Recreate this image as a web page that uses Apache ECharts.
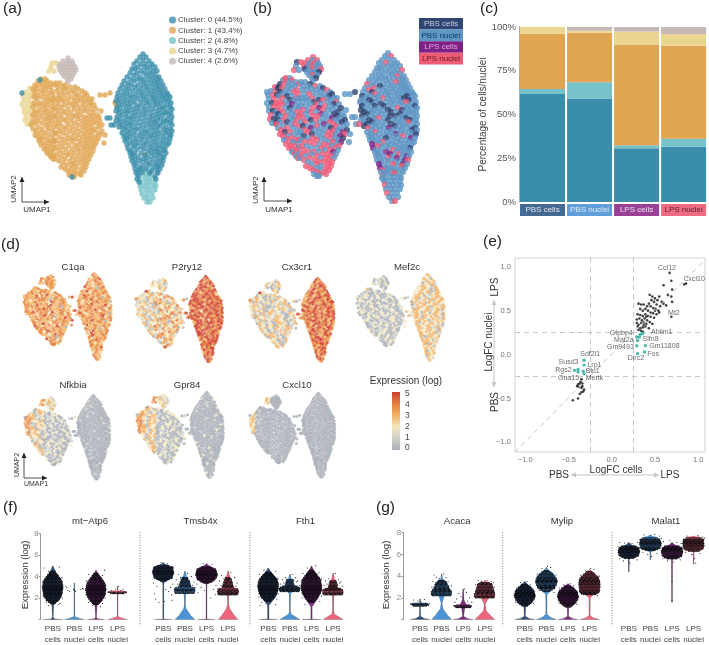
<!DOCTYPE html>
<html><head><meta charset="utf-8">
<style>html,body{margin:0;padding:0;background:#fff}#c{width:709px;height:645px}</style>
<script src="https://cdn.jsdelivr.net/npm/echarts@6/dist/echarts.min.js"></script>
</head><body><div id="c"></div>
<script>
// ---------- UMAP points: rows of [y, x, x, ...]
const yellowRows=[[63,52,56],[67,51],[71,49,54],[88,30,34],[92,26,31],[96,23,28,32],[100,24,29],[104,22,27,31],[108,24,29],[112,24,28,32],[116,26,31],[120,25,29],[124,27,31]];
const greyRows=[[58,68],[61,63,68,72],[64,60,65,69,73],[67,59,63,67,71,75],[70,60,64,68,72,76],[73,62,66,70,74],[76,64,68,72],[79,67,71],[82,68]];
const orangeLeftRows=[[79,41,45],[81,38,47],[83,43,51],[85,35,39,47,54],[87,43,50],[89,33,37,46],[91,41,52],[93,35,44,49],[95,38,53],[97,34,42,47],[99,37,51,54],[101,45,49],[103,34,40,53],[105,37,43,47],[107,51,33],[109,40,45,54],[111,35,48],[113,38,43,52],[115,33,47],[117,36,41,50,54],[119,45],[121,33,38,48,52],[123,42,35],[125,31,46,50],[127,38,54],[129,33,42,48],[131,36,52],[133,40,45,55],[135,35,49],[137,38,43,53],[139,41,47],[141,39,51,54],[143,44,48],[145,41,53],[147,46,50],[149,44,54],[151,48,52],[153,47],[155,50,54],[157,51],[159,53,55]];
const orangeRightRows=[[83,56,60],[85,65],[87,58,63,70,75],[89,66,78],[91,57,62,72,82],[93,68,75,85,110],[95,59,64,79,87,100,105],[97,71,76,84],[99,57,61,67,81,89,92],[101,63,74,78,86],[103,58,69,83,91,115],[105,65,72,76,89,94],[107,56,61,80,85,117],[109,68,74,91,96],[111,58,63,78,83,87,101],[113,66,71,93],[115,56,61,76,80,89,97],[117,68,73,84,92,99],[119,58,63,78,87,95],[121,66,71,82,90,100],[123,56,60,75,85,93,97],[125,68,79,88,102],[127,58,63,72,83,91,99],[129,66,76,86,95],[131,60,70,80,89,93,102],[133,56,63,74,84,98],[135,67,78,87,91,100,105],[137,59,72,82,95],[139,63,68,76,86,90,98],[141,56,72,80,93],[143,60,65,84,88,96,104],[145,69,75,79,92],[147,57,62,83,87,94],[149,66,72,77,90],[151,59,80,85,93],[153,63,69,74,88],[155,57,67,78,83,91,145],[157,61,72,86],[159,65,76,81,89],[161,59,70,84],[163,63,74,79,87],[165,67,72,83],[167,61,76,86],[169,65,71,81],[171,68,75,84],[173,72,79],[175,69,75,81],[177,74]];
const blueRows=[[54,143],[57,140,146],[60,143],[61,137,149],[64,134,141,146,152],[67,138,144,150,155],[69,132,135,147],[71,141,153,157],[73,130,137,144,150],[75,134,147,155],[77,127,140,152,159],[79,131,137,144,149,157],[81,124,134,141,154,161],[83,128,146,151,158],[85,122,131,138,143,156,163],[87,126,135,148,153,160],[89,120,129,141,146,158,165],[91,124,133,138,151,155,162],[93,118,127,143,148,160,167],[95,122,130,136,141,153,157,164,168],[97,117,125,133,146,151,162,170],[99,120,129,138,143,155,159,166],[101,116,124,134,148,153,164,169],[103,119,127,131,141,146,157,161,171],[105,122,136,150,155,167],[107,117,126,130,139,144,159,164,170],[109,120,134,148,153,162,172],[111,116,124,129,138,143,157,167],[113,119,127,133,146,151,160,165,171],[115,122,136,141,155,163,169],[117,117,126,131,145,150,158,172],[119,120,129,134,139,153,161,167],[121,116,124,143,148,157,165,171],[123,119,127,132,137,151,155,163,169],[125,122,130,141,146,160,172],[127,119,126,135,150,154,158,166],[129,123,131,139,144,163,170],[131,127,135,148,153,157,167,172],[133,122,130,142,146,160,165],[135,126,134,139,151,155,169,171],[137,124,130,144,149,158,163],[139,127,136,141,153,166,170],[141,125,133,147,156,161],[143,130,138,143,151,164,169],[145,127,135,146,155,159,167],[147,133,141,150,162],[149,128,137,144,153,158,165],[151,131,148,156,163],[153,130,135,141,151,160,166],[155,133,145,154,158],[157,131,138,148,162,164],[159,135,143,152,157],[161,132,140,146,160,163],[163,136,150,155],[165,134,143,148,158,162],[167,139,153,157],[169,135,141,146,160],[171,138,152,157],[173,136,142,150,158],[176,138,155],[179,137,156],[182,139],[177,72],[80,40],[93,22],[118,107,110],[125,111,114]];
const tealRows=[[170,143,149],[174,139,146,149],[178,140,145,149,153],[182,141,146,150,155],[186,140,144,148,153,156],[190,141,146,150,155],[194,142,147,152],[198,144,148,153],[202,147,150]];

// ---------- per-point sample letters (a PBS cells, b PBS nuclei, c LPS cells, d LPS nuclei)
const sampleYellow="adbdbdabdbdabdbadbdbabdbdab";
const sampleGrey="ddbddbdbdbdbbabdbdbbbabdbbabdb";
const sampleOrangeLeft="dbbdbbadbdbbadbbdabdbdbabddbabdbbdbcbdbabdbdbdabbdbdbadbdabdbdbdbdbdbadbdbdbbddbdddbdbdddbddb";
const sampleOrangeRight="bbabbdbbabbbdbbbabdbabbbbabbdbbbbadbbabdbbdbabbbdbbdcbadbdbbbdbadbcbabddbabdbbcbadbbabdbdbabcdbabdbdbcbabdbbdbabdbdcabdbdbabdcbdbdbabdbbddbdcbdbdbdbdbdbbdddbdbddbcdbddbdbdddbdbdddbdddbdddbddbddbdddbddbdddbdbdddbdddbb";
const sampleBlue="bbdbbbbdbbbbbbbbbbbdbbbbbbbbbdbbbbbbbbbbbbbdbdbbbbbbabbbbdbbbbdbbbbbbabbbbbdbbbbbbabbbbabbbdbbabbabbbabbabbbbdbbabbbabaabbbabbbdbbabbbaababbabbbbabbabbabbaabbbbdbbabbaabbabbabbbbdbabbabbabbabbbdbbcbabbbbbabbdbbbbbbbcbbabbbbdbbbabcbbbbbbbdbbbbcbbbbbdbbbcbbbbabdbbbbcbbbbcdbbbbcbbdcbbbbcdbbbcbdcbbbdcbbbdbbbbbbdbbb";
const sampleTeal="bbbbdbbbbbbbbdbbbbbbbbdbbbbbbdbb";

// ---------- per-point expression digits per gene, groups in the same order as above
const exprC1qa=["4343343433434343344343434","3434343234343434324343343","43343443243434334352343443343424334343353433432433434353434324343433434334423434343352434334343","34343243435343342434335343430343343435343243433434253433434034335433424343344343253433434244343534334303434335434243343435","3434243345343343424343343335234343042434334334534343243433434344343335342434343034343243334534334234343333443402343343453342343353343434253434334","343234343343533433243243343"];
const exprP2ry12=["1232212321121312221232","2123122321201232123121323212","2312301231232230123213102320132302120321302311231320230131320232130230123231203120132301322","2342313243243124034232413242313243034231423224314232403143223413204231324241324323401324232341230432143234302432134230423134","5454545345455445354545545435445454554345455435445525454354545454554535454455435454554534545545435454555445354545554435454554354545345455454354545525454","4545435455445345454545544"];
const exprCx3cr1=["2132023123012321323","1203212320123021320","2102310213203102132021302132013201230213120320132012301312302132103203120132032130213012302","2130230123132023103213021320132023130213203213013202310231320120332013120323210213203123012320321302132301320132031203201323","4543543454535443545435435454345535434543545343534554354534553434543535445343545345345344535435454354534543545435344535453454345453543543455434545","4543435454354534454354543"];
const exprMef2c=["0102102010201201020","0120102012010201201","1020120102001201020120102001201201020102012001201020120102010201020102012001201020010201201","1020102012001020120102010201200102012010200102010201201020102010201201002010201020120102010201020120100201020120102010201201","3232302323132320323123203232313232032321323032323132302323213232032323123230232313232032321323230323132323032321323203232313230323213232303231323","3230323213232302323"];
const exprNfkbia=["3433432434343434","1221232121322132","3213231032132310232132310213230121323102132302132310213203213021323102130213201321302130213","1201021020120100201201020102012001020102010201200102010200102010201020100201020102001020102001020100201000102010001020","000000100000000000000100000000010000000000000000100000000000000100000000000000010000000001000000000000000000010000000000000","0000000100000000"];
const exprGpr84=["4343434343434344","2122312123121221","3232302323123203232313203232321032323103232032323123032321323203232130323213023232032123203","1201021020102012010020102010201200102010201020102010201002010201002010201000102010201001020100102000102010001020100010","000000100000020000000010000000000100000020000000000100000000010000000000200000010000000000001000000000000000200000000000000","0100002000000100"];
const exprCxcl10=["3232323232323","0000000000000","0100000100000000010000000000000001000000000000000000010000000000000000000000000000000000000","0000000000000000000000000000000000000000000000000000000000000000000000000000000000000000000000000000000000000000000000","0000000000000000000000000000000000000000000000000000000000000000000000000000000000000000000000000000000000000000000000000000","00000000000"];

// ---------- panel (c)
const sampleNames=['PBS cells','PBS nuclei','LPS cells','LPS nuclei'];
const barCluster0=[61.7,59.2,30.7,31.6];
const barCluster2=[2.9,9.2,1.7,4.6];
const barCluster1=[31.6,28.3,57.3,53.1];
const barCluster3=[3.8,1.2,7.8,6.5];
const barCluster4=[0,2.1,2.5,4.2];
const clusterNames=['Cluster: 0 (44.5%)','Cluster: 1 (43.4%)','Cluster: 2 (4.8%)','Cluster: 3 (4.7%)','Cluster: 4 (2.6%)'];

// ---------- panel (e)
const fcBlack=[[.67,.93],[.84,.8],[.86,.81],[.69,.43],[.69,.84],[.6,.79],[.7,.74],[.69,.66],[.65,.68],[.7,.6],[.44,.68],[.47,.66],[.5,.64],[.53,.62],[.55,.66],[.58,.6],[.46,.62],[.49,.6],[.52,.57],[.56,.55],[.6,.58],[.63,.56],[.43,.58],[.41,.55],[.45,.55],[.48,.53],[.51,.52],[.54,.5],[.37,.57],[.31,.58],[.34,.57],[.33,.52],[.36,.5],[.39,.52],[.42,.5],[.45,.48],[.48,.47],[.52,.46],[.3,.46],[.33,.45],[.36,.44],[.39,.46],[.42,.44],[.45,.43],[.49,.42],[.29,.4],[.32,.41],[.35,.39],[.38,.41],[.41,.39],[.44,.37],[.47,.35],[.29,.36],[.31,.34],[.34,.36],[.37,.34],[.4,.35],[.3,.32],[.33,.3],[.36,.31],[.39,.32],[.43,.3],[.34,.27],[.36,.26],[.31,.28],[.37,.37],[.4,.43],[.5,.5],[.55,.48],[-.35,-.28],[-.36,-.31],[-.39,-.34],[-.34,-.33],[-.38,-.37],[-.35,-.38],[-.32,-.4],[-.33,-.42],[-.37,-.45],[-.39,-.5],[-.45,-.52],[-.35,-.43],[-.4,-.36],[-.37,-.33],[-.34,-.36]];
const fcTeal=[[.29,.2],[.3,.16],[.32,.2],[.33,.23],[.36,.24],[.29,.1],[.39,.1],[.3,.01],[.38,.03],[-.32,-.065],[-.32,-.12],[-.43,-.18],[-.39,-.17],[-.39,-.2],[-.33,-.19],[-.32,-.22]];
const fcLabels=[['Ccl12',.64,.985],['Cxcl10',.955,.86],['Mt2',.72,.47],['Gtpbp4',.11,.25],['Ablim1',.58,.255],['Mat2a',.14,.17],['Slfn8',.45,.18],['Gm9493',.1,.09],['Gm11808',.61,.1],['Fos',.48,0],['Dirc2',.28,-.04],['Sdf2l1',-.25,0],['Susd3',-.5,-.09],['Lrp1',-.2,-.115],['Rgs2',-.56,-.175],['Bin1',-.22,-.19],['Gna15',-.5,-.27],['Mertk',-.2,-.27]];
const fcTicks=[-1,-.5,0,.5,1];

// ---------- violins: [y, half width] outlines per sample, dark jitter mass, stray jitter dots [dx,y,...]
const vAtp6=[[[0,.46],[.05,.1],[.2,.01],[1.3,.04],[2,.3],[3,.45],[4,.22],[5,.01]],[[0,.46],[.08,.3],[.25,.04],[.4,.01],[3.4,.01]],[[0,.4],[.06,.08],[.2,.01],[1.3,.05],[2,.3],[2.8,.45],[3.7,.25],[4.6,.01]],[[0,.46],[.08,.3],[.25,.04],[.4,.01],[3.1,.01]]];
const bAtp6=[[[1.5,.12],[1.8,.3],[2.2,.42],[3,.48],[3.6,.43],[4,.3],[4.6,.07]],[[2.72,.03],[2.9,.03]],[[1.4,.12],[1.8,.3],[2.2,.42],[2.8,.48],[3.4,.42],[3.8,.28],[4.4,.06]],[[2.42,.34],[2.55,.44],[2.7,.26]]];
const dAtp6=[[-.4,4.8,.3,4.9,-.2,4.5,.42,3.9,-.47,3.5,.46,3.3,-.44,2.2,.44,2,-.3,1.6,.33,1.5,-.2,1.3,.25,1.4],[-.4,3.1,-.3,2.7,-.22,2.6,.3,2.8,.38,2.9,.42,2.85,.05,2.6,-.35,2.95],[-.35,4.2,.4,4.6,.3,4.1,-.45,3.6,.46,3.2,-.46,2.3,.42,2,-.35,1.6,.3,1.5,-.15,1.3,.2,1.2],[-.4,2.6,-.3,2.7,-.1,2.85,.15,2.7,.35,2.6,.4,2.5,.05,3.1,-.2,2.5,.25,2.85]];
const vTmsb=[[[0,.4],[.05,.02],[3.4,.02],[3.8,.3],[4.4,.5],[5,.2],[5.3,.01]],[[0,.46],[.4,.26],[1,.06],[1.4,.01],[2.3,.03],[2.7,.2],[3.4,.16],[4,.08],[4.5,.01]],[[0,.4],[.05,.02],[3.3,.02],[3.6,.3],[4.2,.5],[4.8,.25],[5.2,.01]],[[0,.46],[.4,.28],[1,.08],[1.5,.01],[2.3,.03],[2.6,.2],[3.3,.16],[4,.08],[4.5,.01]]];
const bTmsb=[[[3.6,.16],[3.85,.42],[4.4,.5],[4.9,.44],[5.15,.14]],[[2.45,.46],[2.7,.49],[2.95,.47],[3.1,.28],[3.6,.2],[4,.1]],[[3.4,.16],[3.7,.42],[4.2,.5],[4.7,.44],[5,.14]],[[2.3,.46],[2.6,.49],[2.85,.47],[3,.28],[3.5,.2],[4,.1]]];
const dTmsb=[[-.45,3.4,.44,3.3,-.3,3.1,.33,3,.1,2.8,-.4,2.4,.38,2.3,-.35,1.9,.4,1.8,.05,1.7,-.2,1.6,.25,2.6,-.1,5.3,.2,5.2],[-.3,4.2,.3,4,-.4,3.7,.42,3.5,-.33,3.3,.36,3.2,-.2,3.9,.12,4.3,.2,3.6,-.12,3.4],[-.44,3.3,.44,3.2,-.25,3,.32,2.8,-.4,2.5,.4,2.3,.2,2,-.1,2.7,-.15,5.2,.25,5.1],[-.3,4.1,.3,3.9,-.4,3.6,.42,3.4,-.33,3.2,.36,3.1,-.2,3.8,.12,4.4,.2,3.5,-.12,3.3]];
const vFth=[[[0,.44],[.05,.03],[1.3,.03],[2,.3],[3.1,.47],[4,.25],[4.8,.01]],[[0,.46],[.2,.3],[.5,.06],[.8,.01],[2.4,.03],[2.8,.2],[3.4,.12],[4.2,.01]],[[0,.44],[.05,.03],[1.2,.03],[2,.3],[3,.48],[4,.25],[5,.01]],[[0,.46],[.2,.3],[.5,.06],[.9,.01],[2.2,.03],[2.6,.2],[3.3,.12],[4.3,.01]]];
const bFth=[[[1.7,.12],[2,.3],[2.4,.42],[3.1,.49],[3.7,.43],[4.1,.28],[4.5,.08]],[[2.6,.46],[2.8,.49],[3,.46],[3.2,.22],[3.8,.14]],[[1.6,.12],[2,.3],[2.4,.42],[3,.49],[3.7,.43],[4.2,.26],[4.7,.06]],[[2.3,.46],[2.55,.49],[2.8,.46],[3,.22],[3.7,.14]]];
const dFth=[[-.4,4.2,.35,4.5,-.2,4.6,.45,3.8,-.47,3.5,.46,2.4,-.44,2.1,.4,1.9,-.3,1.6,.33,1.4,-.38,1.3],[-.35,3.7,.3,3.5,-.42,3.3,.44,3.2,-.2,3.9,.1,4.2,.25,3.9,-.28,3.4,.36,3.6],[-.4,4.3,.35,4.4,-.2,4.8,.2,5,.46,3.8,-.47,3.6,.46,2.2,-.44,2,.38,1.7,-.3,1.4],[-.35,3.6,.3,3.4,-.42,3.2,.44,3.1,-.2,3.8,.1,4.3,.25,3.7,-.28,3.3,.36,3.5]];
const vAcaca=[[[0,.46],[.1,.2],[.3,.02],[1.9,.01]],[[0,.46],[.4,.28],[1,.06],[1.5,.02],[2.3,.14],[3,.1],[4.2,.01]],[[0,.46],[.1,.2],[.3,.02],[1.1,.08],[1.3,.16],[1.8,.04],[2.8,.01]],[[0,.46],[.3,.3],[.8,.06],[1.4,.02],[2.1,.2],[2.8,.18],[3.6,.01]]];
const bAcaca=[[[1.25,.34],[1.4,.42],[1.55,.34]],[[2.2,.46],[2.45,.49],[2.65,.44],[3,.34],[3.4,.26],[3.7,.08]],[[1.1,.36],[1.25,.42],[1.4,.28]],[[2,.46],[2.25,.49],[2.5,.44],[2.9,.38],[3.3,.32],[3.5,.12]]];
const dAcaca=[[-.3,1.8,.2,1.85,-.1,1.7,.4,1.3,-.42,1.45,.44,1.5,.05,1.6,-.18,1.2],[-.35,4.1,-.25,3.9,.2,3.9,.3,3.5,-.4,3.5,.45,3.1,-.45,3,.1,4.2,-.1,3.8],[-.2,2.4,.15,2.5,.3,2,-.3,1.9,.05,2.8,-.1,2.1,.2,1.7,-.38,1.6,.4,1.6,-.42,1.3],[-.3,3.6,.3,3.5,-.42,3.2,.44,3,.1,3.6,-.15,3.5,.4,3.4]];
const vMylip=[[[0,.46],[.1,.2],[.3,.02],[1.2,.04],[1.7,.3],[2.2,.45],[2.8,.3],[3.5,.01]],[[0,.46],[.2,.18],[.5,.02],[2.3,.03],[2.8,.3],[3.5,.47],[4.2,.24],[4.8,.01]],[[0,.46],[.1,.2],[.3,.02],[1.1,.04],[1.6,.3],[2.1,.45],[2.7,.3],[3.3,.01]],[[0,.46],[.15,.16],[.4,.02],[2,.03],[2.6,.35],[3.4,.47],[4.1,.28],[4.6,.01]]];
const bMylip=[[[1.25,.14],[1.5,.3],[1.8,.42],[2.2,.49],[2.7,.42],[3,.28],[3.35,.08]],[[2.6,.18],[2.85,.38],[3.15,.46],[3.5,.5],[4,.42],[4.3,.26],[4.6,.07]],[[1.15,.14],[1.4,.3],[1.7,.42],[2.1,.49],[2.6,.42],[2.9,.28],[3.2,.08]],[[2.3,.3],[2.5,.46],[3.4,.5],[3.9,.42],[4.2,.26],[4.5,.08]]];
const dMylip=[[-.2,3.4,.25,3.2,-.38,2.9,.44,2.6,-.48,2.4,.4,1.5,-.42,1.6,.1,3.5],[-.2,4.7,.2,4.8,-.42,4.2,.45,4.1,-.3,2.7,.35,2.5,.05,4.9,-.48,3.8],[-.2,3.2,.25,3.1,-.38,2.9,.44,2.5,-.48,2.3,.4,1.4,-.42,1.5,.1,3.3],[-.2,4.5,.2,4.6,-.42,4.1,.45,4,-.38,2.3,.35,2.2,.05,4.7,-.48,3.7]];
const vMalat=[[[4.4,.01],[5.6,.02],[6,.3],[6.25,.47],[6.6,.3],[7.1,.01]],[[5.5,.01],[6.2,.02],[6.6,.3],[7,.47],[7.4,.3],[7.8,.01]],[[1.6,.01],[5.6,.02],[5.95,.3],[6.25,.47],[6.6,.3],[7.1,.01]],[[5.1,.01],[6.2,.02],[6.6,.3],[7,.47],[7.4,.3],[7.7,.01]]];
const bMalat=[[[5.65,.24],[5.85,.44],[6.25,.5],[6.65,.44],[6.85,.24]],[[6.35,.24],[6.55,.45],[7,.5],[7.4,.46],[7.65,.24]],[[5.6,.24],[5.8,.44],[6.25,.5],[6.65,.44],[6.85,.24]],[[6.3,.26],[6.5,.46],[7,.5],[7.4,.46],[7.65,.24]]];
const dMalat=[[-.44,7.1,-.2,7.05,.15,7,.4,7.1,-.5,6.7,.5,6.6,-.42,5.6,.38,5.5,-.25,5.4,.2,5.7,.05,5.2],[-.3,7.8,.2,7.85,.42,7.7,-.48,7.4,.5,7.5,-.35,6.2,.3,6.1,.05,5.8,-.12,6],[-.4,7.2,-.1,7.3,.22,7.1,.42,7,-.5,6.8,.5,6.6,-.42,5.6,.38,5.5,.08,5.3,0,3.5,0,1.7,-.2,5.4],[-.3,7.7,.2,7.75,.42,7.6,-.48,7.3,.5,7.5,-.38,6.2,.3,6.1,.04,5.6,-.08,6,.1,5.2]];

// ---------- styling
const clusterColors=['#3a8dab','#e0a552','#77c2c8','#ead591','#c6b9b5'];
const sampleColors={a:'#2f4470',b:'#5e96c4',c:'#7a2585',d:'#ee5d78'};
const stripColors=['#446a94','#5fa0dc','#9c3f96','#ee6b82'];
const violinColors=['#2f4d78','#4a94d6','#7e2a7e','#ee6478'];
const exprPalette=['#a9afb8','#cfcfc8','#f4e6bd','#f2b266','#e3803f','#cf3d2e'];
const FONT='"Liberation Sans",Arial,sans-serif';

const expand=rows=>rows.flatMap(r=>r.slice(1).map(x=>[x,r[0]]));
const groups=[yellowRows,greyRows,orangeLeftRows,orangeRightRows,blueRows,tealRows].map(expand);
const sampleStr=[sampleYellow,sampleGrey,sampleOrangeLeft,sampleOrangeRight,sampleBlue,sampleTeal];

const grid=[],xAxis=[],yAxis=[],series=[],title=[];
function addGrid(g,x,y){grid.push(Object.assign({containLabel:false},g));xAxis.push(Object.assign({gridIndex:grid.length-1},x));yAxis.push(Object.assign({gridIndex:grid.length-1},y));return grid.length-1;}
const umapX={type:'value',min:15,max:185,show:false},umapY={type:'value',min:50,max:210,inverse:true,show:false};

// (a)
const ga=addGrid({left:15,top:50,width:170,height:160},umapX,umapY);
const clusterData=[groups[4],groups[2].concat(groups[3]),groups[5],groups[0],groups[1]];
[0,1,2,3,4].forEach(i=>series.push({type:'scatter',name:clusterNames[i],xAxisIndex:ga,yAxisIndex:ga,data:clusterData[i],symbolSize:5.3,itemStyle:{color:clusterColors[i]},silent:true,animation:false,z:[5,3,4,2,2][i]}));

// (b)
const gb=addGrid({left:260,top:49,width:170,height:160},umapX,umapY);
const bData=[];groups.forEach((g,k)=>g.forEach((p,i)=>bData.push({value:p,itemStyle:{color:sampleColors[sampleStr[k][i%sampleStr[k].length]]}})));
series.push({type:'scatter',xAxisIndex:gb,yAxisIndex:gb,data:bData,symbolSize:6.2,silent:true,animation:false});

// (d)
const genes=[['C1qa',exprC1qa,20,271,.58,68,263],['P2ry12',exprP2ry12,132,274,.575,182,263],['Cx3cr1',exprCx3cr1,246,276,.56,292,263],['Mef2c',exprMef2c,353,272,.58,402,263],['Nfkbia',exprNfkbia,21,393,.565,68,381],['Gpr84',exprGpr84,133,390,.575,182,381],['Cxcl10',exprCxcl10,246,391,.565,292,381]];
genes.forEach(g=>{
  const gi=addGrid({left:g[2],top:g[3],width:170*g[4],height:160*g[4]},umapX,umapY);
  const data=[];groups.forEach((grp,k)=>grp.forEach((p,i)=>{const s=g[1][k];data.push([p[0],p[1],+s[i%s.length]]);}));
  series.push({type:'scatter',xAxisIndex:gi,yAxisIndex:gi,data,symbolSize:3.1,silent:true,animation:false,itemStyle:{color:p=>exprPalette[p.value[2]]}});
  title.push({text:g[0],left:g[5],top:g[6]-6,textAlign:'center',textStyle:{fontSize:9.6,fontWeight:'normal',color:'#333',fontFamily:FONT}});
});
// colour bar
const gbar=addGrid({left:392,top:392,width:8,height:58},{type:'category',data:[''],show:false},{type:'value',min:-.18,max:5.18,position:'right',axisLine:{show:false},axisTick:{show:false},splitLine:{show:false},axisLabel:{customValues:[0,1,2,3,4,5],fontSize:8.5,margin:5,color:'#444',fontFamily:FONT}});
series.push({type:'custom',xAxisIndex:gbar,yAxisIndex:gbar,data:[[0]],silent:true,animation:false,renderItem:(p,api)=>{const a=api.coord([0,5.18]),b=api.coord([0,-.18]),w=api.size([1,0])[0];return{type:'rect',shape:{x:a[0]-w/2,y:a[1],width:w,height:b[1]-a[1]},style:{fill:{type:'linear',x:0,y:0,x2:0,y2:1,colorStops:exprPalette.slice().reverse().map((c,i)=>({offset:i/5,color:c}))}}};}});

// (c)
const gc=addGrid({left:519,top:27,width:189,height:175},
 {type:'category',data:sampleNames.map((n,i)=>({value:n,textStyle:{backgroundColor:stripColors[i],color:i==3?'#5a1c2c':'#e6e6ee'}})),axisLine:{show:false},axisTick:{show:false},axisLabel:{interval:0,fontSize:8,margin:2,width:45,height:12,lineHeight:12,align:'center',overflow:'none',fontFamily:FONT}},
 {type:'value',min:0,max:100,interval:25,axisLine:{show:true,lineStyle:{color:'#999',type:'dotted'}},axisTick:{show:false},splitLine:{show:false},axisLabel:{formatter:'{value}%',fontSize:9.5,margin:3,color:'#555',fontFamily:FONT},name:'Percentage of cells/nuclei',nameLocation:'middle',nameGap:21,nameTextStyle:{fontSize:10,color:'#444',fontFamily:FONT}});
[[barCluster0,0],[barCluster2,2],[barCluster1,1],[barCluster3,3],[barCluster4,4]].forEach(b=>series.push({type:'bar',stack:'c',xAxisIndex:gc,yAxisIndex:gc,data:b[0],barWidth:45,itemStyle:{color:clusterColors[b[1]]},silent:true,animation:false}));

// (e)
const tick=v=>v.toFixed(1).replace('-','\u2212');
const ge=addGrid({left:515,top:258,width:190,height:194,show:true,borderColor:'#cfd2d8',borderWidth:1},
 {type:'value',min:-1.12,max:1.08,splitLine:{show:false},axisLine:{show:false},axisTick:{show:false},axisLabel:{customValues:fcTicks,formatter:tick,fontSize:7.5,margin:4,color:'#777',fontFamily:FONT}},
 {type:'value',min:-1.11,max:1.1,splitLine:{show:false},axisLine:{show:false},axisTick:{show:false},axisLabel:{customValues:fcTicks,formatter:tick,fontSize:7.5,margin:4,color:'#777',fontFamily:FONT}});
const dash={color:'#c4c6c9',type:[5,4],width:1};
series.push({type:'scatter',xAxisIndex:ge,yAxisIndex:ge,data:fcBlack,symbolSize:2.6,itemStyle:{color:'#111'},silent:true,animation:false,z:4,
 markLine:{silent:true,symbol:'none',animation:false,label:{show:false},lineStyle:dash,data:[{xAxis:-.25},{xAxis:.25},{yAxis:-.25},{yAxis:.25},[{coord:[-1.12,-1.11]},{coord:[1.06,1.06]}]]}});
series.push({type:'scatter',xAxisIndex:ge,yAxisIndex:ge,data:fcTeal,symbolSize:3.4,itemStyle:{color:'#22a897'},silent:true,animation:false,z:5});
series.push({type:'scatter',xAxisIndex:ge,yAxisIndex:ge,data:fcLabels.map(l=>({value:[l[1],l[2]],name:l[0]})),symbolSize:0,silent:true,animation:false,z:6,label:{show:true,position:'inside',formatter:'{b}',fontSize:7,color:'#444',fontFamily:FONT}});

// (f,g) violins
function violinPanel(left,top,h,axisOffset,name,v,b,d){
  const yOn=axisOffset>0;
  const gi=addGrid({left,top,width:86.4,height:h},
   {type:'category',data:['PBS\ncells','PBS\nnuclei','LPS\ncells','LPS\nnuclei'],axisLine:{show:false},axisTick:{show:false},axisLabel:{interval:0,fontSize:8,margin:4.5,lineHeight:10.5,color:'#444',fontFamily:FONT}},
   {type:'value',min:0,max:8,interval:2,splitLine:{show:false},show:yOn,offset:axisOffset,axisLine:{show:yOn,lineStyle:{color:'#999'}},axisTick:{show:yOn,length:2,lineStyle:{color:'#999'}},axisLabel:{formatter:x=>x?x:'',fontSize:8,margin:2,color:'#888',fontFamily:FONT}});
  series.push({type:'custom',xAxisIndex:gi,yAxisIndex:gi,data:[[0],[1],[2],[3]],silent:true,animation:false,renderItem:(p,api)=>{
    const i=api.value(0),band=api.size([1,0])[0];
    const poly=(prof,fill,extra)=>{const pts=[];prof.forEach(q=>{const c=api.coord([i,q[0]]);pts.push([c[0]+q[1]*band,c[1]]);});prof.slice().reverse().forEach(q=>{const c=api.coord([i,q[0]]);pts.push([c[0]-q[1]*band,c[1]]);});return{type:'polygon',shape:{points:pts},style:Object.assign({fill},extra||{})};};
    const lo=api.coord([i,v[i][0][0]]),hi=api.coord([i,v[i][v[i].length-1][0]]);
    const kids=[{type:'line',shape:{x1:lo[0],y1:lo[1],x2:hi[0],y2:hi[1]},style:{stroke:'#777',lineWidth:.9}},poly(v[i],violinColors[i],{stroke:'#333',lineWidth:.25}),poly(b[i],violinColors[i],{opacity:.9})];
    // the dark jitter mass: stipple filling the mass outline b[i], so colour shows through
    const m=b[i].map(q=>[api.coord([i,q[0]])[1],q[1]*band]);
    let row=0;
    for(let k=0;k<m.length-1;k++){
      const y0=m[k][0],y1=m[k+1][0],n=Math.max(1,Math.round((y0-y1)/1.1));
      for(let s=0;s<n;s++){const t=s/n,py=y0+(y1-y0)*t,hw=m[k][1]+(m[k+1][1]-m[k][1])*t;row++;
        const cx=lo[0];
        for(let dx=-hw+(row%2?.65:0);dx<=hw;dx+=1.3)kids.push({type:'circle',shape:{cx:cx+dx,cy:py,r:.72},style:{fill:'#0b0b0e'}});}
    }
    for(let k=0;k<d[i].length;k+=2){const c=api.coord([i,d[i][k+1]]);kids.push({type:'circle',shape:{cx:c[0]+d[i][k]*band,cy:c[1],r:.55},style:{fill:'#111'}});}
    return{type:'group',children:kids};
  }});
  title.push({text:name,left:left+43,top:511,textAlign:'center',textStyle:{fontSize:9.6,fontWeight:'normal',color:'#333',fontFamily:FONT}});
}
violinPanel(42,533.7,91,1.3,'mt\u2212Atp6',vAtp6,bAtp6,dAtp6);
violinPanel(152.5,533.7,91,0,'Tmsb4x',vTmsb,bTmsb,dTmsb);
violinPanel(257.5,533.7,91,0,'Fth1',vFth,bFth,dFth);
violinPanel(409.2,532.7,91.3,6,'Acaca',vAcaca,bAcaca,dAcaca);
violinPanel(514,532.7,91.3,0,'Mylip',vMylip,bMylip,dMylip);
violinPanel(618,532.7,91.3,0,'Malat1',vMalat,bMalat,dMalat);

// ---------- annotations
const g=[];
const txt=(s,x,y,size,color,rot,align)=>g.push({type:'text',x,y,rotation:rot?Math.PI/2:0,silent:true,style:{text:s,fontSize:size,fill:color||'#333',align:align||'center',verticalAlign:'middle',fontFamily:FONT}});
function arrow(x1,y1,x2,y2,color,w,head){
  g.push({type:'line',silent:true,shape:{x1,y1,x2,y2},style:{stroke:color,lineWidth:w}});
  const a=Math.atan2(y2-y1,x2-x1),h=head,s=head*.5;
  g.push({type:'polygon',silent:true,shape:{points:[[x2,y2],[x2-h*Math.cos(a)+s*Math.sin(a),y2-h*Math.sin(a)-s*Math.cos(a)],[x2-h*Math.cos(a)-s*Math.sin(a),y2-h*Math.sin(a)+s*Math.cos(a)]]},style:{fill:color}});
}
[['(a)',3,9],['(b)',253,9],['(c)',480,9],['(d)',1,245],['(e)',483,242],['(f)',3,508],['(g)',376,508]].forEach(l=>txt(l[0],l[1],l[2],15.5,'#222',false,'left'));
// UMAP keys
[[22,202,49,177,37,210,14,189],[264,201,292,177,279,210,256,190]].forEach(k=>{arrow(k[0],k[1],k[2],k[1],'#222',.8,5);arrow(k[0],k[1],k[0],k[3],'#222',.8,5);txt('UMAP1',k[4],k[5],8,'#333');txt('UMAP2',k[6],k[7],8,'#333',true);});
arrow(24,478,47,478,'#222',.8,5);arrow(24,478,24,453,'#222',.8,5);txt('UMAP1',36,484,7,'#333');txt('UMAP2',17,465,7,'#333',true);
// (b) key
sampleNames.forEach((n,i)=>{g.push({type:'rect',silent:true,shape:{x:419,y:18+i*11.6,width:44,height:11.6},style:{fill:['#2f4672','#5e96c4','#7c2185','#ee5d75'][i]}});txt(n,441,24+i*11.6,8,['#c8d0e4','#123a5c','#e9a9d8','#6a1626'][i]);});
// (d) key
txt('Expression (log)',406,381,10,'#333');
// (e) key
txt('LogFC cells',616,470,10,'#333');txt('PBS',559,475,10,'#333');txt('LPS',670,475,10,'#333');
arrow(615,475,571,475,'#c4c6c9',1,5);arrow(615,475,659,475,'#c4c6c9',1,5);
txt('LogFC nuclei',489,342,10,'#333',true);txt('LPS',495,287,10,'#333',true);txt('PBS',495,402,10,'#333',true);
arrow(494,343,494,300,'#c4c6c9',1,5);arrow(494,343,494,387,'#c4c6c9',1,5);
// (f,g) shared
txt('Expression (log)',25,575,9.5,'#333',true);txt('Expression (log)',386,575,9.5,'#333',true);
[140,250,502.7,612].forEach(x=>g.push({type:'line',silent:true,shape:{x1:x,y1:532,x2:x,y2:626},style:{stroke:'#555',lineWidth:.8,lineDash:[1,1.6]}}));

const chart=echarts.init(document.getElementById('c'),null,{renderer:'canvas',width:709,height:645});
chart.setOption({animation:false,backgroundColor:'#fff',title,grid,xAxis,yAxis,series,graphic:g,
 legend:{data:clusterNames,orient:'vertical',left:169,top:16,itemWidth:7,itemHeight:7,itemGap:2.3,icon:'circle',selectedMode:false,padding:0,textStyle:{fontSize:8,color:'#444',padding:[0,0,0,-3],fontFamily:FONT}}});
</script></body></html>
